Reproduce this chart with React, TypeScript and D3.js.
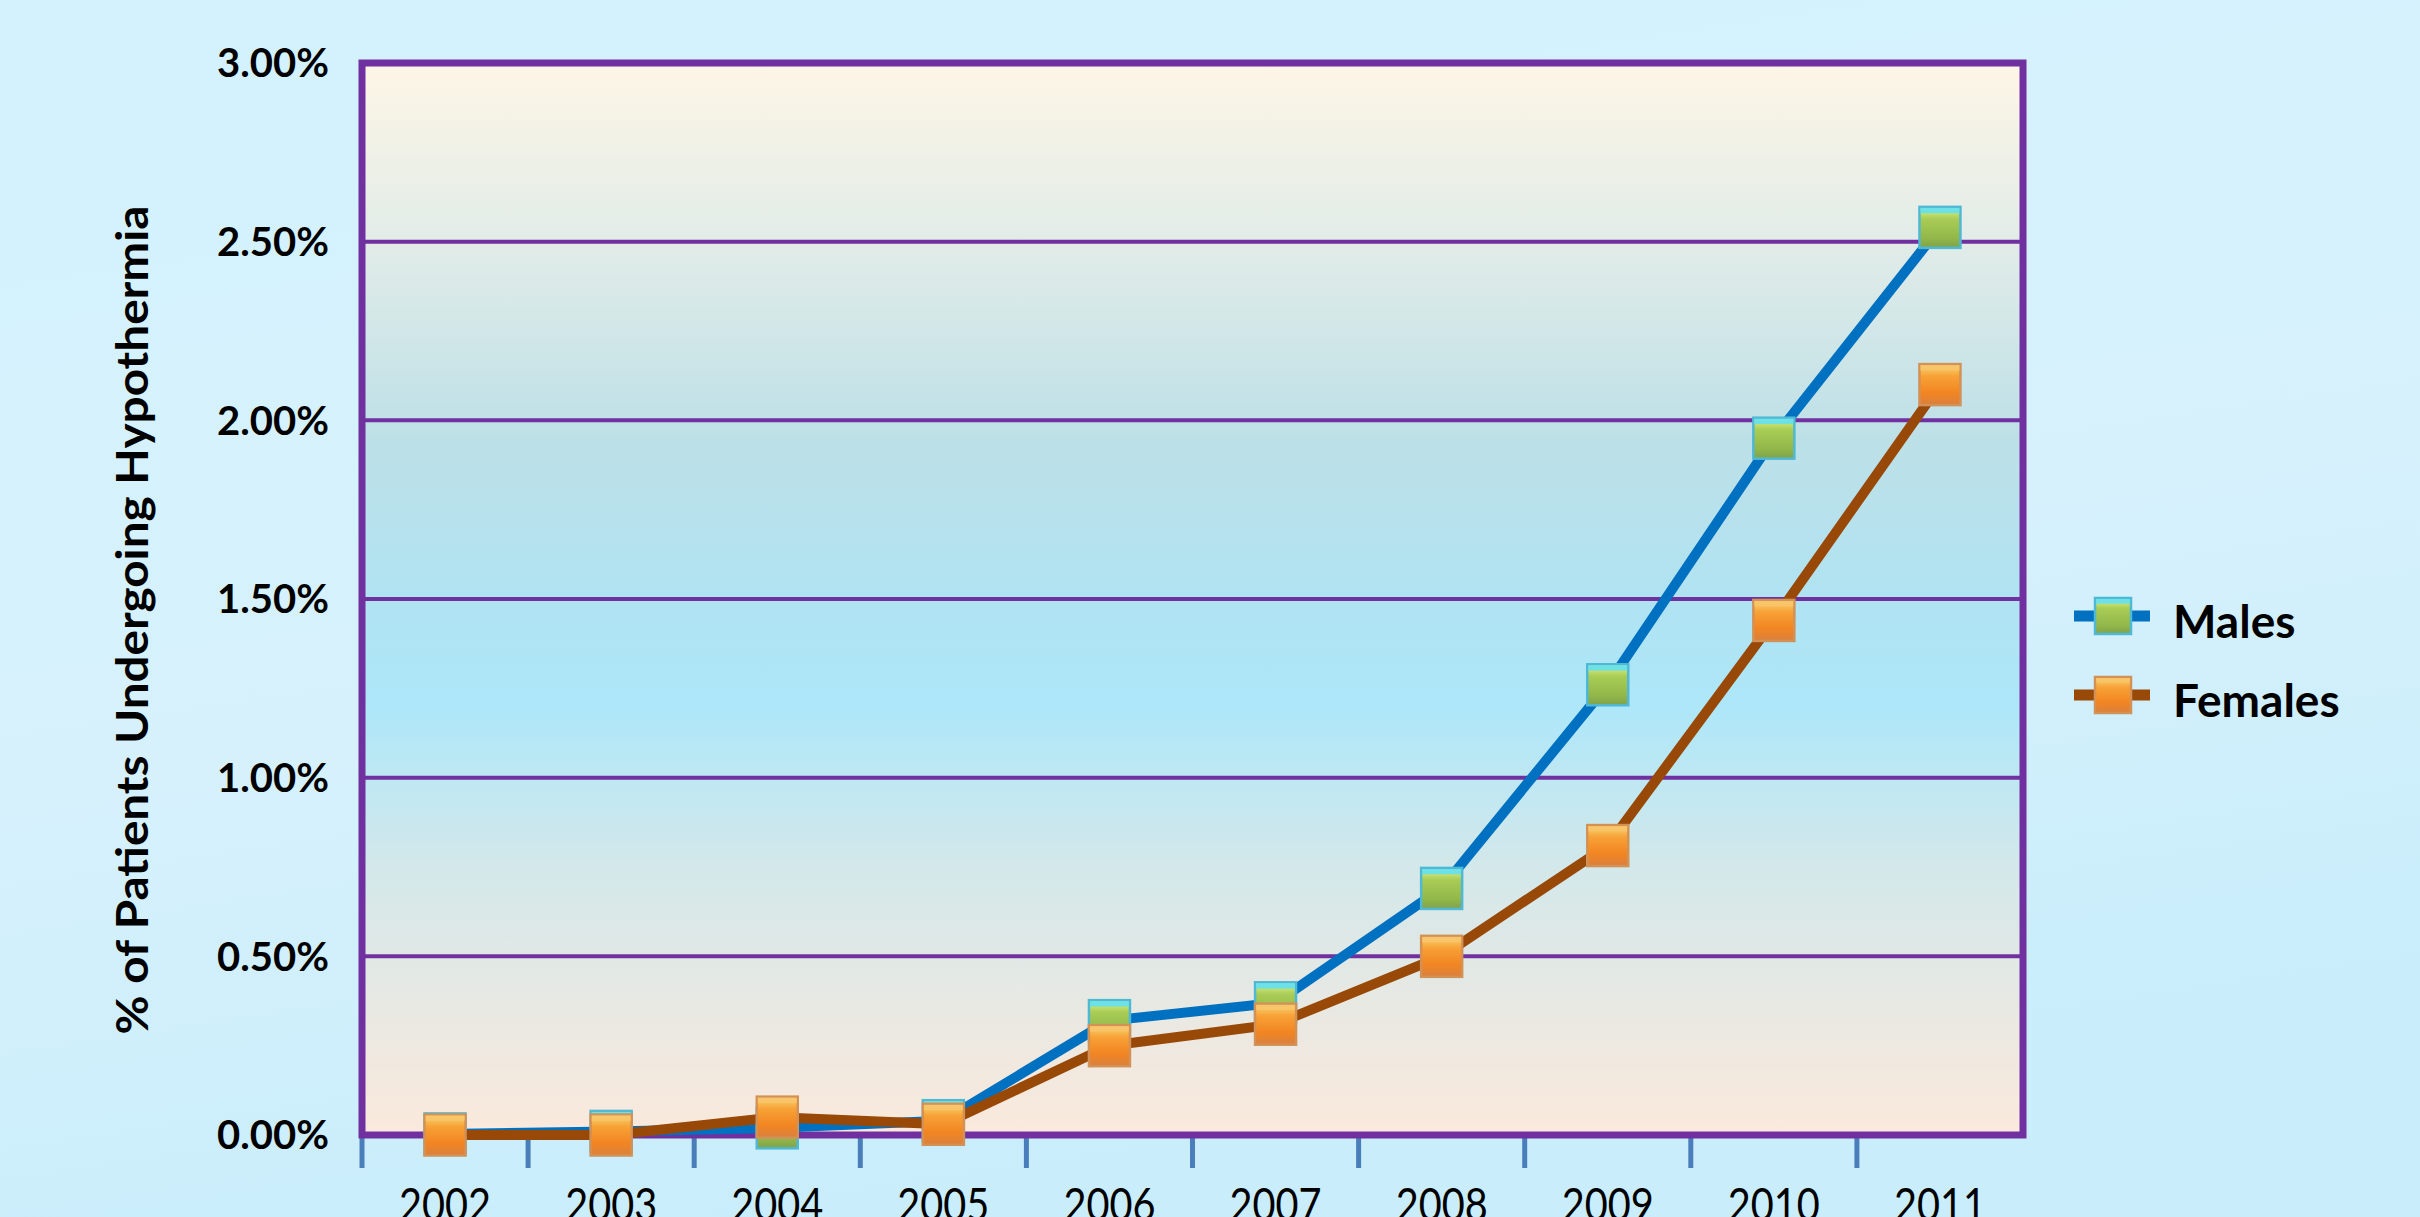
import * as d3 from "d3";

const W = 2420;
const H = 1217;

// chart data
const years = ["2002", "2003", "2004", "2005", "2006", "2007", "2008", "2009", "2010", "2011"];
const males = [0.00003, 0.0001, 0.0002, 0.0004, 0.0032, 0.0037, 0.0069, 0.0126, 0.0195, 0.0254];
const females = [0.0, 0.0, 0.0005, 0.0003, 0.0025, 0.0031, 0.005, 0.0081, 0.0144, 0.021];
const yTicks = [0, 0.005, 0.01, 0.015, 0.02, 0.025, 0.03];
const seriesNames = ["Males", "Females"];

const margin = { top: 63, right: W - 2023, bottom: H - 1135, left: 362 };
const PURPLE = "#7030a0";
const FONT = "Lato, 'Open Sans', sans-serif";

const MARKER = {
  Males: { line: "#0070c0", grad: "mk-male", stroke: "#4fb8d4", top: "#62e0f2" },
  Females: { line: "#984807", grad: "mk-female", stroke: "#d39155", top: "#f7c46a" },
} as const;

function Marker({ cx, cy, size, name }: { cx: number; cy: number; size: number; name: "Males" | "Females" }) {
  const m = MARKER[name];
  const s = size;
  return (
    <g transform={`translate(${cx - s / 2},${cy - s / 2})`}>
      <rect width={s} height={s} fill={`url(#${m.grad})`} stroke={m.stroke} strokeWidth={2.5} />
      <rect x={1} y={1} width={s - 2} height={s * 0.13} fill={m.top} opacity={0.9} />
    </g>
  );
}

export default function App() {
  const x = d3.scaleBand<string>().domain(years).range([margin.left, W - margin.right]).padding(0);
  const y = d3.scaleLinear().domain([0, 0.03]).range([H - margin.bottom, margin.top]);
  const cx = (yr: string) => (x(yr) ?? 0) + x.bandwidth() / 2;

  const line = d3
    .line<number>()
    .x((_, i) => cx(years[i]))
    .y((d) => y(d));

  const fmt = d3.format(".2%");
  const plotL = margin.left;
  const plotR = W - margin.right;
  const plotT = margin.top;
  const plotB = H - margin.bottom;

  // ticks sit on the band edges; the last edge has none in the source
  const tickXs = years.map((yr) => x(yr) ?? 0);

  const series = [
    { name: "Males" as const, values: males },
    { name: "Females" as const, values: females },
  ];

  return (
    <div style={{ position: "absolute", left: 0, top: 0, width: W, height: H, overflow: "hidden" }}>
      <svg width={W} height={H} style={{ display: "block" }}>
        <defs>
          <linearGradient id="page-bg" x1="0" y1="0" x2="0.3" y2="1">
            <stop offset="0%" stopColor="#d3f2fd" />
            <stop offset="60%" stopColor="#d6f1fc" />
            <stop offset="100%" stopColor="#c9edfb" />
          </linearGradient>
          <linearGradient id="plot-bg" x1="0" y1="0" x2="0" y2="1">
            <stop offset="0%" stopColor="#fef6e6" />
            <stop offset="18%" stopColor="#dfebe8" />
            <stop offset="35%" stopColor="#bde0e7" />
            <stop offset="50%" stopColor="#b0e3f2" />
            <stop offset="60%" stopColor="#ade7f9" />
            <stop offset="75%" stopColor="#d3e8ea" />
            <stop offset="100%" stopColor="#fbe9dc" />
          </linearGradient>
          <linearGradient id="mk-male" x1="0" y1="0" x2="0" y2="1">
            <stop offset="0%" stopColor="#e2f58a" />
            <stop offset="30%" stopColor="#a8cc55" />
            <stop offset="75%" stopColor="#93b84a" />
            <stop offset="100%" stopColor="#7fa24a" />
          </linearGradient>
          <linearGradient id="mk-female" x1="0" y1="0" x2="0" y2="1">
            <stop offset="0%" stopColor="#fbd774" />
            <stop offset="30%" stopColor="#f7a136" />
            <stop offset="70%" stopColor="#f28522" />
            <stop offset="100%" stopColor="#d9803e" />
          </linearGradient>
        </defs>

        <rect width={W} height={H} fill="url(#page-bg)" />
        <rect x={plotL} y={plotT} width={plotR - plotL} height={plotB - plotT} fill="url(#plot-bg)" />

        {/* gridlines */}
        {yTicks.slice(1, -1).map((t) => (
          <line key={t} x1={plotL} x2={plotR} y1={y(t)} y2={y(t)} stroke={PURPLE} strokeWidth={4} />
        ))}

        {/* x ticks below the axis */}
        {tickXs.map((tx, i) => (
          <line key={i} x1={tx} x2={tx} y1={plotB} y2={plotB + 33} stroke="#4a7ebb" strokeWidth={5} />
        ))}

        {/* plot border */}
        <rect x={plotL} y={plotT} width={plotR - plotL} height={plotB - plotT} fill="none" stroke={PURPLE} strokeWidth={7} />

        {/* y tick labels */}
        {yTicks.map((t) => (
          <text
            key={t}
            x={329}
            y={y(t)}
            dy="0.36em"
            textAnchor="end"
            fontFamily={FONT}
            fontWeight="bold"
            fontSize={40}
            fill="#000"
          >
            {fmt(t)}
          </text>
        ))}

        {/* x labels, cut by the bottom edge as in the source */}
        {years.map((yr) => (
          <text
            key={yr}
            x={cx(yr)}
            y={1221}
            textAnchor="middle"
            fontFamily={FONT}
            fontSize={47}
            textLength={92}
            lengthAdjust="spacingAndGlyphs"
            fill="#000"
          >
            {yr}
          </text>
        ))}

        {/* y axis title */}
        <text
          transform="translate(148,620) rotate(-90)"
          textAnchor="middle"
          fontFamily={FONT}
          fontWeight="bold"
          fontSize={43}
          textLength={829}
          lengthAdjust="spacingAndGlyphs"
          fill="#000"
        >
          % of Patients Undergoing Hypothermia
        </text>

        {/* series */}
        {series.map((s) => (
          <g key={s.name}>
            <path d={line(s.values) ?? ""} fill="none" stroke={MARKER[s.name].line} strokeWidth={10} strokeLinejoin="round" />
            {s.values.map((v, i) => (
              <Marker key={i} cx={cx(years[i])} cy={y(v)} size={41} name={s.name} />
            ))}
          </g>
        ))}

        {/* legend */}
        {seriesNames.map((name, i) => {
          const ly = 616 + i * 79;
          const n = name as "Males" | "Females";
          return (
            <g key={name}>
              <line x1={2074} x2={2150} y1={ly} y2={ly} stroke={MARKER[n].line} strokeWidth={11} />
              <Marker cx={2113} cy={ly} size={36} name={n} />
              <text x={2173} y={ly + 22} fontFamily={FONT} fontWeight="bold" fontSize={46} fill="#000">
                {name}
              </text>
            </g>
          );
        })}
      </svg>
    </div>
  );
}
